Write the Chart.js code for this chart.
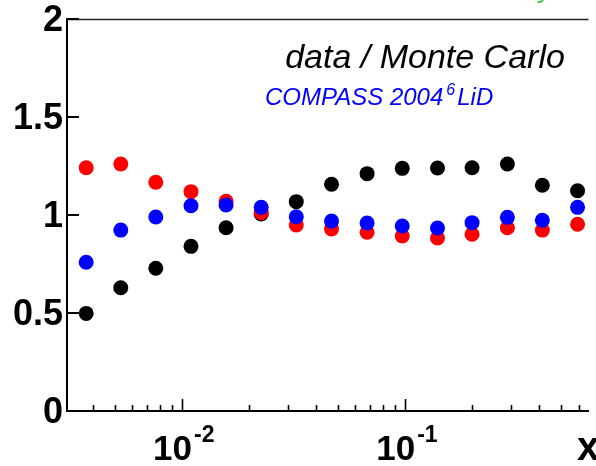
<!DOCTYPE html>
<html><head><meta charset="utf-8">
<script src="https://cdn.jsdelivr.net/npm/chart.js@4.4.0/dist/chart.umd.min.js"></script>
<style>html,body{margin:0;padding:0;background:#fff;overflow:hidden}#wrap{width:596px;height:466px;position:relative}</style>
</head><body><div id="wrap"><canvas id="c"></canvas></div>
<script>
// ---- data ----
const xValues     = [0.00373,0.00533,0.00765,0.0110,0.0158,0.0227,0.0326,0.0469,0.0677,0.0973,0.140,0.200,0.288,0.413,0.594];
const blackValues = [0.498,0.629,0.728,0.840,0.935,1.005,1.068,1.157,1.211,1.238,1.240,1.241,1.260,1.152,1.124];
const redValues   = [1.241,1.260,1.167,1.119,1.070,1.012,0.949,0.929,0.912,0.893,0.883,0.902,0.935,0.923,0.953];
const blueValues  = [0.759,0.923,0.990,1.047,1.051,1.039,0.991,0.969,0.959,0.944,0.934,0.961,0.988,0.973,1.039];
const yTickLabels = ['0','0.5','1','1.5','2'];
const xMajorTicks = [0.01, 0.1];
const xMajorLabels = [['10','-2'],['10','-1']];
const xMinorMantissas = [2,3,4,5,6,7,8,9];
const xAxisTitle = 'x';
const titleText = 'data / Monte Carlo';
const subText = ['COMPASS 2004','6','LiD'];
const cornerText = 'y';

const toPts = ys => xValues.map((x,i)=>({x, y: ys[i]}));
const FONT = '"Liberation Sans", Arial, Helvetica, sans-serif';

const decor = {
  id: 'rootDecor',
  beforeDatasetsDraw(chart){
    const {ctx, chartArea:a, scales:{x, y}} = chart;
    ctx.save();
    ctx.strokeStyle = '#222'; ctx.lineWidth = 1.5;
    ctx.beginPath(); ctx.moveTo(a.left, a.top+0.5); ctx.lineTo(a.right, a.top+0.5); ctx.stroke();
    ctx.strokeStyle = '#000'; ctx.lineWidth = 2;
    y.ticks.forEach(t => {
      const py = Math.round(y.getPixelForValue(t.value));
      ctx.beginPath(); ctx.moveTo(a.left, py); ctx.lineTo(a.left+12, py); ctx.stroke();
    });
    ctx.lineWidth = 1.6;
    x.ticks.forEach(t => {
      const px = Math.round(x.getPixelForValue(t.value))+0.5;
      const major = xMajorTicks.some(m => Math.abs(m - t.value) < 1e-9);
      const len = major ? 12 : 6;
      ctx.beginPath(); ctx.moveTo(px, a.bottom); ctx.lineTo(px, a.bottom-len); ctx.stroke();
    });
    ctx.restore();
  },
  afterDraw(chart){
    const {ctx, chartArea:a, scales:{x, y}} = chart;
    ctx.save();
    ctx.fillStyle = '#000';
    // y tick labels
    ctx.font = 'bold 36px ' + FONT;
    ctx.textAlign = 'right'; ctx.textBaseline = 'middle';
    y.ticks.forEach((t,i) => {
      const py = y.getPixelForValue(t.value);
      ctx.fillText(yTickLabels[i], a.left-4, py+2);
    });
    // x tick labels with superscript
    ctx.textAlign = 'left'; ctx.textBaseline = 'alphabetic';
    xMajorTicks.forEach((v,i) => {
      const px = x.getPixelForValue(v);
      ctx.font = 'bold 35px ' + FONT;
      const wb = ctx.measureText(xMajorLabels[i][0]).width;
      ctx.font = 'bold 23px ' + FONT;
      const we = ctx.measureText(xMajorLabels[i][1]).width;
      const sx = px - (wb + 2 + we)/2 + 2;
      ctx.font = 'bold 35px ' + FONT;
      ctx.fillText(xMajorLabels[i][0], sx, 460);
      ctx.font = 'bold 23px ' + FONT;
      ctx.fillText(xMajorLabels[i][1], sx + wb + 2, 442);
    });
    // axis title
    ctx.font = 'bold 40px ' + FONT;
    ctx.fillText(xAxisTitle, 577, 460);
    // title
    ctx.font = 'italic 34px ' + FONT;
    ctx.textAlign = 'center';
    ctx.fillText(titleText, 425, 68);
    // subtitle
    ctx.textAlign = 'left';
    ctx.fillStyle = '#0000ff';
    let sx = 265;
    ctx.font = 'italic 24px ' + FONT;
    ctx.fillText(subText[0], sx, 105); sx += ctx.measureText(subText[0]).width + 3;
    ctx.font = 'italic 16px ' + FONT;
    ctx.fillText(subText[1], sx, 95); sx += ctx.measureText(subText[1]).width + 2;
    ctx.font = 'italic 24px ' + FONT;
    ctx.fillText(subText[2], sx, 105);
    // corner fragment
    ctx.fillStyle = '#44cc44';
    ctx.font = 'italic 28px ' + FONT;
    ctx.fillText(cornerText, 539, -3);
    ctx.restore();
  }
};

new Chart(document.getElementById('c'), {
  type: 'scatter',
  data: {
    datasets: [
      {label:'blue',  data: toPts(blueValues),  backgroundColor:'#0000ff', order:0},
      {label:'red',   data: toPts(redValues),   backgroundColor:'#ff0000', order:1},
      {label:'black', data: toPts(blackValues), backgroundColor:'#000000', order:2}
    ]
  },
  options: {
    responsive: true, maintainAspectRatio: false, animation: false, events: [],
    layout: {padding: {left: 67, top: 19, right: 0, bottom: 55}},
    elements: {point: {radius: 7.5, hoverRadius: 7.5, borderWidth: 0, pointStyle: 'circle'}},
    plugins: {legend: {display: false}, tooltip: {enabled: false}},
    scales: {
      x: {
        type: 'logarithmic', min: 0.00306, max: 0.665,
        afterBuildTicks: s => {
          const t = [];
          for (let d = -3; d <= -1; d++) {
            [1].concat(xMinorMantissas).forEach(m => {
              const v = +(m * Math.pow(10, d)).toPrecision(3);
              if (v >= s.min && v <= s.max) t.push({value: v});
            });
          }
          s.ticks = t;
        },
        ticks: {display: false},
        grid: {display: false, drawTicks: false},
        border: {display: true, color: '#000', width: 2}
      },
      y: {
        min: 0, max: 2,
        ticks: {display: false, stepSize: 0.5},
        grid: {display: false, drawTicks: false},
        border: {display: true, color: '#000', width: 2}
      }
    }
  },
  plugins: [decor]
});
</script>
</body></html>
